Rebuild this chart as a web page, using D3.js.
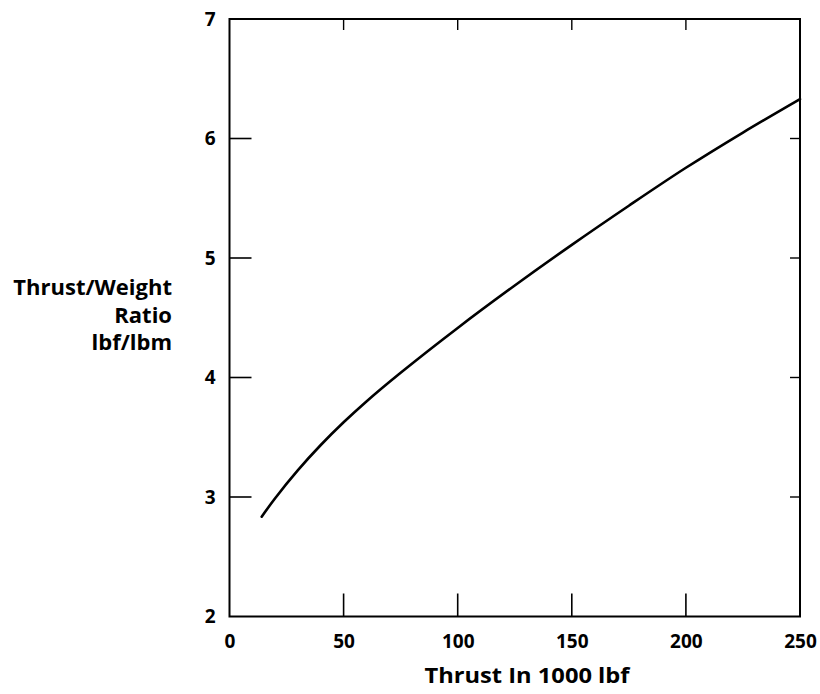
<!DOCTYPE html>
<html>
<head>
<meta charset="utf-8">
<script src="https://cdn.jsdelivr.net/npm/d3@7/dist/d3.min.js"></script>
<style>
  html, body { margin: 0; padding: 0; background: #fff; }
  svg text { font-family: "Open Sans", "DejaVu Sans", sans-serif; font-weight: 700; fill: #000; }
</style>
</head>
<body>
<svg id="chart" width="820" height="694"></svg>
<script>
// Data
const thrust = [14.1, 20, 30, 40, 50, 60, 75, 100, 125, 150, 175, 200, 225, 250];
const ratio  = [2.835, 2.99, 3.225, 3.435, 3.625, 3.80, 4.04, 4.415, 4.77, 5.11, 5.4375, 5.755, 6.05, 6.33];
const xTicks = [0, 50, 100, 150, 200, 250];
const yTicks = [2, 3, 4, 5, 6, 7];
const xTitle = "Thrust In 1000 lbf";
const yTitleLines = ["Thrust/Weight", "Ratio", "lbf/lbm"];

const svg = d3.select("#chart");
const m = { left: 229.5, right: 800, top: 19, bottom: 616.5 };

const x = d3.scaleLinear().domain([0, 250]).range([m.left, m.right]);
const y = d3.scaleLinear().domain([2, 7]).range([m.bottom, m.top]);

// Frame
svg.append("rect")
  .attr("x", m.left).attr("y", m.top)
  .attr("width", m.right - m.left).attr("height", m.bottom - m.top)
  .attr("fill", "none").attr("stroke", "#000").attr("stroke-width", 2);

const innerX = xTicks.filter(d => d > 0 && d < 250);
const innerY = yTicks.filter(d => d > 2 && d < 7);

// Bottom axis labels
const bottom = svg.append("g").attr("transform", `translate(0,${m.bottom})`)
  .call(d3.axisBottom(x).tickValues(xTicks).tickSize(0).tickPadding(18).tickFormat(d3.format("d")));
bottom.select(".domain").remove();
bottom.selectAll("text").attr("font-size", 19).attr("font-family", null).attr("dy", "0.71em");

// inward ticks bottom / top
svg.append("g").selectAll("line").data(innerX).join("line")
  .attr("x1", d => x(d)).attr("x2", d => x(d))
  .attr("y1", m.bottom).attr("y2", m.bottom - 23)
  .attr("stroke", "#000").attr("stroke-width", 1.6);
svg.append("g").selectAll("line").data(innerX).join("line")
  .attr("x1", d => x(d)).attr("x2", d => x(d))
  .attr("y1", m.top).attr("y2", m.top + 11)
  .attr("stroke", "#000").attr("stroke-width", 1.4);

// Left axis labels
const left = svg.append("g").attr("transform", `translate(${m.left},0)`)
  .call(d3.axisLeft(y).tickValues(yTicks).tickSize(0).tickPadding(14).tickFormat(d3.format("d")));
left.select(".domain").remove();
left.selectAll("text").attr("font-size", 19).attr("font-family", null);

// inward ticks left / right
svg.append("g").selectAll("line").data(innerY).join("line")
  .attr("x1", m.left).attr("x2", m.left + 22)
  .attr("y1", d => y(d)).attr("y2", d => y(d))
  .attr("stroke", "#000").attr("stroke-width", 1.6);
svg.append("g").selectAll("line").data(innerY).join("line")
  .attr("x1", m.right).attr("x2", m.right - 10)
  .attr("y1", d => y(d)).attr("y2", d => y(d))
  .attr("stroke", "#000").attr("stroke-width", 1.4);

// Curve
const pts = thrust.map((t, i) => [t, ratio[i]]);
svg.append("path")
  .datum(pts)
  .attr("fill", "none").attr("stroke", "#000").attr("stroke-width", 2.6)
  .attr("stroke-linecap", "round")
  .attr("d", d3.line().x(d => x(d[0])).y(d => y(d[1])).curve(d3.curveCatmullRom));

// Axis titles
svg.append("text")
  .attr("x", 527).attr("y", 683)
  .attr("text-anchor", "middle").attr("font-size", 22)
  .attr("textLength", 205).attr("lengthAdjust", "spacingAndGlyphs")
  .text(xTitle);

svg.append("g").selectAll("text").data(yTitleLines).join("text")
  .attr("x", 172).attr("y", (d, i) => 295 + i * 27.5)
  .attr("text-anchor", "end").attr("font-size", 22)
  .text(d => d);
</script>
</body>
</html>
